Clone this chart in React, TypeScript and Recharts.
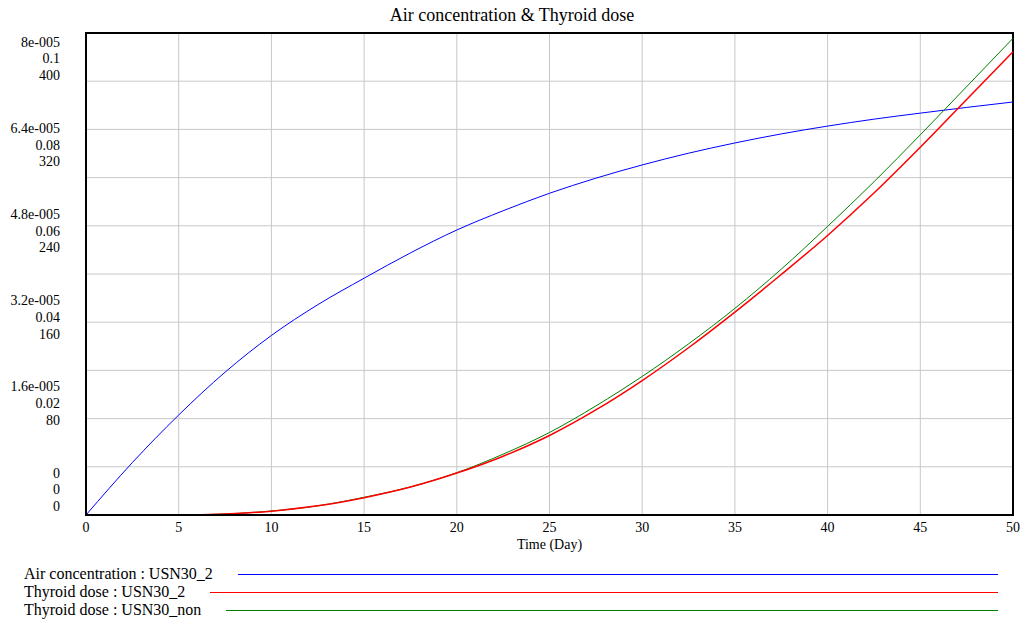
import { LineChart, Line, XAxis, YAxis, CartesianGrid, Legend, ReferenceArea } from 'recharts'

const days = [0, 2.5, 5, 7.5, 10, 12.5, 15, 17.5, 20, 22.5, 25, 27.5, 30, 32.5, 35, 37.5, 40, 42.5, 45, 47.5, 50]

// Air concentration : USN30_2
const airConcentration = [
  0, 8.7e-6, 1.66e-5, 2.37e-5, 2.98e-5, 3.49e-5, 3.93e-5, 4.35e-5, 4.73e-5, 5.05e-5, 5.34e-5,
  5.59e-5, 5.81e-5, 6.005e-5, 6.175e-5, 6.325e-5, 6.455e-5, 6.57e-5, 6.67e-5, 6.765e-5, 6.855e-5,
]
// Thyroid dose : USN30_2
const thyroidDose2 = [
  0, 0, 0, 0.0002, 0.0008, 0.0019, 0.0036, 0.0058, 0.0087, 0.0122, 0.0165,
  0.0218, 0.0279, 0.0347, 0.0421, 0.0499, 0.058, 0.0668, 0.0763, 0.0862, 0.0961,
]
// Thyroid dose : USN30_non
const thyroidDoseNon = [
  0, 0, 0, 0.8, 3.3, 7.6, 14.7, 23.3, 35.1, 50.5, 68.5,
  90.5, 115, 142, 171.5, 204, 239.5, 276.5, 315.5, 355.5, 395.6,
]

const xTicks = [0, 5, 10, 15, 20, 25, 30, 35, 40, 45, 50]
const gridTicks = [0, 40, 80, 120, 160, 200, 240, 280, 320, 360, 400]
const airTickLabels = ['0', '1.6e-005', '3.2e-005', '4.8e-005', '6.4e-005', '8e-005']
const dose2TickLabels = ['0', '0.02', '0.04', '0.06', '0.08', '0.1']
const doseNonTickLabels = ['0', '80', '160', '240', '320', '400']

const legendItems = [
  { name: 'Air concentration : USN30_2', color: '#0000ff', width: 1 },
  { name: 'Thyroid dose : USN30_2', color: '#ff0000', width: 1.5 },
  { name: 'Thyroid dose : USN30_non', color: '#008000', width: 1 },
]

const FONT = '"Liberation Serif", "Times New Roman", serif'
const LABEL_RIGHT = 60

const data = days.map((day, i) => ({
  day,
  air: airConcentration[i],
  dose2: thyroidDose2[i],
  doseNon: thyroidDoseNon[i],
}))

function StackedTick(props: any) {
  const { y, payload } = props
  const v = payload.value
  if (v % 80 !== 0) return <g />
  const i = v / 80
  const k = 5 - i
  // vensim spreads the label stacks a bit tighter than the grid
  const top = y + 8.7 - k * 10.2
  const style = { fontFamily: FONT, fontSize: 14, fill: '#000' }
  return (
    <g>
      <text x={LABEL_RIGHT} y={top} dy="0.35em" textAnchor="end" style={style}>{airTickLabels[i]}</text>
      <text x={LABEL_RIGHT} y={top + 16.7} dy="0.35em" textAnchor="end" style={style}>{dose2TickLabels[i]}</text>
      <text x={LABEL_RIGHT} y={top + 33.4} dy="0.35em" textAnchor="end" style={style}>{doseNonTickLabels[i]}</text>
    </g>
  )
}

function LegendBox() {
  return (
    <div style={{ height: 60, boxSizing: 'border-box', paddingTop: 10, paddingLeft: 24, paddingRight: 15, fontFamily: FONT, fontSize: 16, color: '#000' }}>
      {legendItems.map((item) => (
        <div key={item.name} style={{ display: 'flex', alignItems: 'center', height: 18 }}>
          <span style={{ whiteSpace: 'nowrap', lineHeight: '18px' }}>{item.name}</span>
          <div style={{ flex: 1, marginLeft: 25, height: 0, borderTop: `${item.width}px solid ${item.color}` }} />
        </div>
      ))}
    </div>
  )
}

export default function App() {
  return (
    <div style={{ position: 'absolute', left: 0, top: 0, width: 1024, height: 623, background: '#fff' }}>
      <div style={{ position: 'absolute', left: 0, top: 5, width: 1024, textAlign: 'center', fontFamily: FONT, fontSize: 18, lineHeight: '20px', color: '#000' }}>
        Air concentration &amp; Thyroid dose
      </div>
      <LineChart width={1024} height={623} data={data} margin={{ top: 33, right: 11, left: 0, bottom: 8 }}>
        <CartesianGrid yAxisId="non" stroke="#c8c8c8" strokeWidth={1} />
        <XAxis
          dataKey="day"
          type="number"
          domain={[0, 50]}
          ticks={xTicks}
          height={40}
          tickSize={0}
          tickMargin={7}
          axisLine={{ stroke: '#000', strokeWidth: 2 }}
          tick={{ fill: '#000', fontSize: 14, fontFamily: FONT }}
          label={{ value: 'Time (Day)', position: 'insideBottom', offset: 6, fill: '#000', fontSize: 14, fontFamily: FONT }}
        />
        <YAxis
          yAxisId="non"
          domain={[0, 400]}
          ticks={gridTicks}
          width={86}
          tickSize={0}
          tickMargin={26}
          axisLine={{ stroke: '#000', strokeWidth: 2 }}
          tick={<StackedTick />}
          interval={0}
        />
        <YAxis yAxisId="air" domain={[0, 8e-5]} hide />
        <YAxis yAxisId="dose2" domain={[0, 0.1]} hide />
        <Legend verticalAlign="bottom" content={<LegendBox />} wrapperStyle={{ height: 60 }} />
        <Line yAxisId="air" dataKey="air" type="monotone" stroke="#0000ff" strokeWidth={1} dot={false} isAnimationActive={false} />
        <Line yAxisId="non" dataKey="doseNon" type="monotone" stroke="#008000" strokeWidth={1} dot={false} isAnimationActive={false} />
        <Line yAxisId="dose2" dataKey="dose2" type="monotone" stroke="#ff0000" strokeWidth={1.5} dot={false} isAnimationActive={false} />
        <ReferenceArea yAxisId="non" x1={0} x2={50} y1={0} y2={400} fill="none" stroke="#000" strokeWidth={2} ifOverflow="visible" />
      </LineChart>
    </div>
  )
}
